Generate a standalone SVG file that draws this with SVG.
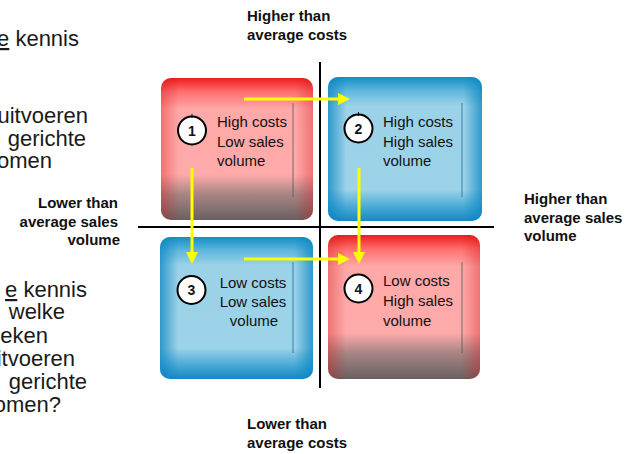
<svg xmlns="http://www.w3.org/2000/svg" width="632" height="454" viewBox="0 0 632 454">
<style>
.t{font-family:"Liberation Sans",Arial,sans-serif;fill:#111}
.lbl{font-weight:bold;font-size:15px}
.bx{font-size:15px}
.num{font-weight:bold;font-size:14px;text-anchor:middle}
.side{font-size:22px;fill:#1a1a1a;text-anchor:end}
.ax{stroke:#000;stroke-width:2}
.arr{stroke:#ffff00;stroke-width:3;fill:none;marker-end:url(#ah)}
.circ{fill:#fff;stroke:#000;stroke-width:2}
.tick{stroke:#000;stroke-width:1}
.inR{stroke:#555;stroke-width:0.8}
.inB{stroke:#1a6a9a;stroke-width:0.8}
</style>
<defs>
<linearGradient id="redV" x1="0" y1="0" x2="0" y2="1">
<stop offset="0" stop-color="#ee1c1c"/>
<stop offset="0.1" stop-color="#ff7070"/>
<stop offset="0.22" stop-color="#ffa8a8"/>
<stop offset="0.68" stop-color="#ffaaaa"/>
<stop offset="0.82" stop-color="#a88484"/>
<stop offset="1" stop-color="#6a6060"/>
</linearGradient>
<linearGradient id="redH" x1="0" y1="0" x2="1" y2="0">
<stop offset="0" stop-color="#d01010" stop-opacity="0.35"/>
<stop offset="0.12" stop-color="#d01010" stop-opacity="0"/>
<stop offset="0.88" stop-color="#d01010" stop-opacity="0"/>
<stop offset="1" stop-color="#d01010" stop-opacity="0.35"/>
</linearGradient>
<linearGradient id="blueV" x1="0" y1="0" x2="0" y2="1">
<stop offset="0" stop-color="#168ec8"/>
<stop offset="0.1" stop-color="#62b8dc"/>
<stop offset="0.2" stop-color="#9bd2e8"/>
<stop offset="0.78" stop-color="#9dd3e8"/>
<stop offset="0.9" stop-color="#4aaad6"/>
<stop offset="1" stop-color="#1688c2"/>
</linearGradient>
<linearGradient id="blueH" x1="0" y1="0" x2="1" y2="0">
<stop offset="0" stop-color="#0a86c2" stop-opacity="0.75"/>
<stop offset="0.12" stop-color="#0a86c2" stop-opacity="0"/>
<stop offset="0.88" stop-color="#0a86c2" stop-opacity="0"/>
<stop offset="1" stop-color="#0a86c2" stop-opacity="0.75"/>
</linearGradient>
<marker id="ah" viewBox="0 0 12 12" refX="6" refY="6" markerWidth="12" markerHeight="12" markerUnits="userSpaceOnUse" orient="auto">
<path d="M0,0 L12,6 L0,12 z" fill="#ffff00"/>
</marker>
</defs>

<g id="side-text-top">
<text class="t side" x="79" y="46"><tspan text-decoration="underline">e</tspan> kennis</text>
<text class="t side" x="88" y="123">uitvoeren</text>
<text class="t side" x="86" y="146">gerichte</text>
<text class="t side" x="52" y="168">komen</text>
</g>
<g id="side-text-bottom">
<text class="t side" x="87" y="297"><tspan text-decoration="underline">e</tspan> kennis</text>
<text class="t side" x="65" y="319">welke</text>
<text class="t side" x="48" y="343">eken</text>
<text class="t side" x="75" y="366">uitvoeren</text>
<text class="t side" x="87" y="389">gerichte</text>
<text class="t side" x="61" y="412">komen?</text>
</g>

<g id="axes">
<line class="ax" x1="320" y1="62" x2="320" y2="388"/>
<line class="ax" x1="138" y1="227" x2="494" y2="227"/>
</g>

<g id="labels">
<text class="t lbl" x="247" y="21">Higher than</text>
<text class="t lbl" x="247" y="39.5">average costs</text>
<text class="t lbl" x="524" y="204">Higher than</text>
<text class="t lbl" x="524" y="222.6">average sales</text>
<text class="t lbl" x="524" y="241.2">volume</text>
<text class="t lbl" x="118" y="208" text-anchor="end">Lower than</text>
<text class="t lbl" x="118" y="226.6" text-anchor="end">average sales</text>
<text class="t lbl" x="120" y="245.2" text-anchor="end">volume</text>
<text class="t lbl" x="247" y="429">Lower than</text>
<text class="t lbl" x="247" y="447.5">average costs</text>
</g>

<g id="node1">
<rect x="161" y="78" width="152" height="142" rx="10" fill="url(#redV)"/>
<rect x="161" y="78" width="152" height="142" rx="10" fill="url(#redH)"/>
<line class="inR" x1="293" y1="103" x2="293" y2="197"/>
<circle class="circ" cx="192" cy="130.5" r="14"/>
<line class="tick" x1="192" y1="114" x2="192" y2="118"/>
<text class="t num" x="192" y="135.5">1</text>
<text class="t bx" x="217" y="127.3">High costs</text>
<text class="t bx" x="217" y="146.5">Low sales</text>
<text class="t bx" x="217" y="165.5">volume</text>
</g>

<g id="node2">
<rect x="328" y="77" width="154" height="144" rx="10" fill="url(#blueV)"/>
<rect x="328" y="77" width="154" height="144" rx="10" fill="url(#blueH)"/>
<line class="inB" x1="462" y1="103" x2="462" y2="197"/>
<circle class="circ" cx="358.5" cy="128.5" r="14"/>
<line class="tick" x1="358.5" y1="112" x2="358.5" y2="116"/>
<text class="t num" x="358.5" y="133.5">2</text>
<text class="t bx" x="383" y="127.3">High costs</text>
<text class="t bx" x="383" y="146.5">High sales</text>
<text class="t bx" x="383" y="165.5">volume</text>
</g>

<g id="node3">
<rect x="160" y="237" width="153" height="142" rx="10" fill="url(#blueV)"/>
<rect x="160" y="237" width="153" height="142" rx="10" fill="url(#blueH)"/>
<line class="inB" x1="293" y1="262" x2="293" y2="353"/>
<circle class="circ" cx="191.5" cy="290" r="14"/>
<text class="t num" x="191.5" y="295">3</text>
<text class="t bx" x="253" y="288.3" text-anchor="middle">Low costs</text>
<text class="t bx" x="253" y="307" text-anchor="middle">Low sales</text>
<text class="t bx" x="254" y="325.7" text-anchor="middle">volume</text>
</g>

<g id="node4">
<rect x="328" y="235" width="152" height="144" rx="10" fill="url(#redV)"/>
<rect x="328" y="235" width="152" height="144" rx="10" fill="url(#redH)"/>
<line class="inR" x1="462" y1="262" x2="462" y2="353"/>
<circle class="circ" cx="358.5" cy="288.5" r="14"/>
<text class="t num" x="358.5" y="293.5">4</text>
<text class="t bx" x="383" y="286.3">Low costs</text>
<text class="t bx" x="383" y="306">High sales</text>
<text class="t bx" x="383" y="325.7">volume</text>
</g>

<g id="connectors">
<line class="arr" x1="244" y1="99" x2="344" y2="99"/>
<line class="arr" x1="192" y1="168" x2="192" y2="258"/>
<line class="arr" x1="359" y1="168" x2="359" y2="258"/>
<line class="arr" x1="244" y1="259" x2="344" y2="259"/>
</g>
</svg>
